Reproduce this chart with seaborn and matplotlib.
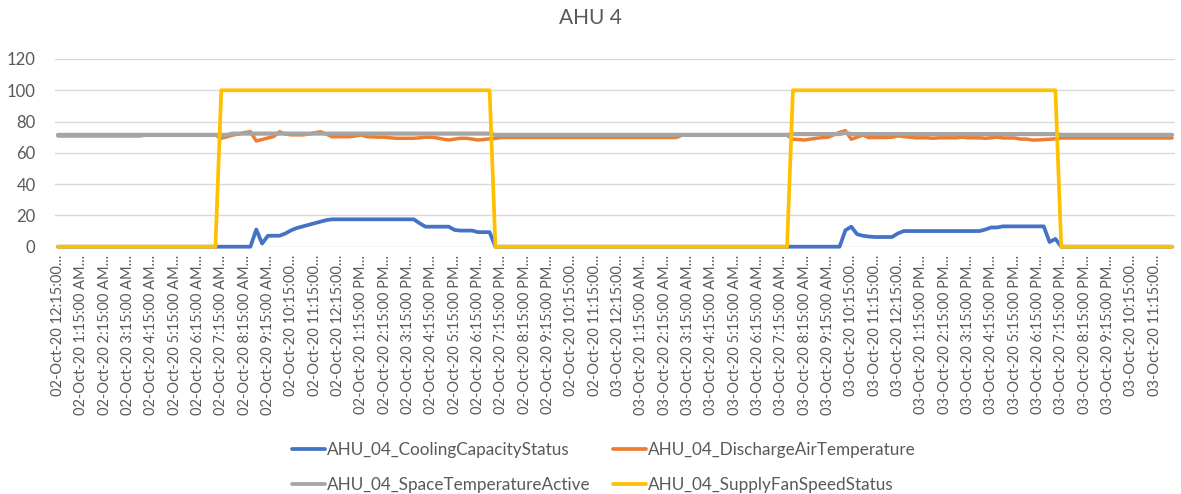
import pandas as pd
import seaborn as sns
import matplotlib.pyplot as plt
from matplotlib.lines import Line2D

# 15-minute readings from 02-Oct-20 12:15 AM, 16 values (4 hours) per row
cooling_capacity = [
    0, 0, 0, 0, 0, 0, 0, 0, 0, 0, 0, 0, 0, 0, 0, 0,
    0, 0, 0, 0, 0, 0, 0, 0, 0, 0, 0, 0, 0, 0, 0, 0,
    0, 0, 11, 2, 7, 7, 7, 8.5, 10.5, 12, 13, 14, 15, 16, 17, 17.5,
    17.5, 17.5, 17.5, 17.5, 17.5, 17.5, 17.5, 17.5, 17.5, 17.5, 17.5, 17.5, 17.5, 17.5, 15, 12.8,
    12.8, 12.8, 12.8, 12.8, 10.7, 10.3, 10.3, 10.3, 9.3, 9.3, 9.3, 0, 0, 0, 0, 0,
    0, 0, 0, 0, 0, 0, 0, 0, 0, 0, 0, 0, 0, 0, 0, 0,
    0, 0, 0, 0, 0, 0, 0, 0, 0, 0, 0, 0, 0, 0, 0, 0,
    0, 0, 0, 0, 0, 0, 0, 0, 0, 0, 0, 0, 0, 0, 0, 0,
    0, 0, 0, 0, 0, 0, 0, 10.5, 12.8, 8, 7, 6.5, 6.2, 6.2, 6.2, 6.2,
    8.5, 10, 10, 10, 10, 10, 10, 10, 10, 10, 10, 10, 10, 10, 10, 11,
    12.3, 12.3, 13, 13, 13, 13, 13, 13, 13, 13, 3, 5, 0, 0, 0, 0,
    0, 0, 0, 0, 0, 0, 0, 0, 0, 0, 0, 0, 0, 0, 0, 0,
]

discharge_air_temp = [
    70.8, 70.8, 70.8, 70.8, 70.8, 70.8, 70.8, 70.8, 70.8, 70.8, 70.8, 70.8, 70.8, 70.8, 70.8, 71.3,
    71.3, 71.3, 71.3, 71.3, 71.3, 71.3, 71.3, 71.3, 71.3, 71.3, 71.3, 71.3, 69.3, 70.3, 71.4, 72,
    73, 73.5, 67.6, 68.5, 69.5, 70.5, 73.5, 72, 71.5, 71.5, 71.5, 72, 72.8, 73.5, 72, 70.3,
    70.3, 70.3, 70.3, 70.8, 71.4, 70.3, 70.2, 70, 70, 69.6, 69.3, 69.3, 69.3, 69.3, 69.6, 70,
    70, 69.5, 68.8, 68.2, 68.8, 69.3, 69.3, 68.8, 68.2, 68.5, 69, 69.3, 69.8, 69.8, 69.8, 69.8,
    69.8, 69.8, 69.8, 69.8, 69.8, 69.8, 69.8, 69.8, 69.8, 69.8, 69.8, 69.8, 69.8, 69.8, 69.8, 69.8,
    69.8, 69.8, 69.8, 69.8, 69.8, 69.8, 69.8, 69.8, 69.8, 69.8, 69.8, 71.3, 71.3, 71.3, 71.3, 71.3,
    71.3, 71.3, 71.3, 71.3, 71.3, 71.3, 71.3, 71.3, 71.3, 71.3, 71.3, 71.3, 71.3, 71.3, 68.7, 68.5,
    68.2, 68.8, 69.3, 69.7, 70, 71.5, 73.1, 74.2, 68.7, 70, 71.4, 69.7, 69.8, 69.8, 69.8, 70,
    70.8, 70.4, 70, 69.6, 69.6, 69.6, 69.3, 69.6, 69.6, 69.6, 69.6, 70, 69.6, 69.6, 69.6, 69.3,
    69.6, 70, 69.5, 69.5, 69.5, 68.8, 68.8, 68.2, 68.2, 68.5, 68.7, 69, 69.5, 69.5, 69.5, 69.5,
    69.5, 69.5, 69.5, 69.5, 69.5, 69.5, 69.5, 69.5, 69.5, 69.5, 69.5, 69.5, 69.5, 69.5, 69.5, 69.5,
]

space_temp = [
    71.5, 71.5, 71.5, 71.5, 71.5, 71.5, 71.5, 71.5, 71.5, 71.5, 71.5, 71.5, 71.5, 71.5, 71.5, 71.5,
    71.5, 71.5, 71.5, 71.5, 71.5, 71.5, 71.5, 71.5, 71.5, 71.5, 71.5, 71.5, 71.5, 71.5, 72.3, 72.3,
    72.3, 72.3, 72.3, 72.3, 72.3, 72.3, 72.3, 72.3, 72.3, 72.3, 72.3, 72.3, 72.3, 72.3, 72.3, 72.3,
    72.3, 72.3, 72.3, 72.3, 72.3, 72.3, 72.3, 72.3, 72.3, 72.3, 72.3, 72.3, 72.3, 72.3, 72.3, 72.3,
    72.3, 72.3, 72.3, 72.3, 72.3, 72.3, 72.3, 72.3, 72.3, 72.3, 72.3, 71.5, 71.5, 71.5, 71.5, 71.5,
    71.5, 71.5, 71.5, 71.5, 71.5, 71.5, 71.5, 71.5, 71.5, 71.5, 71.5, 71.5, 71.5, 71.5, 71.5, 71.5,
    71.5, 71.5, 71.5, 71.5, 71.5, 71.5, 71.5, 71.5, 71.5, 71.5, 71.5, 71.5, 71.5, 71.5, 71.5, 71.5,
    71.5, 71.5, 71.5, 71.5, 71.5, 71.5, 71.5, 71.5, 71.5, 71.5, 71.5, 71.5, 71.5, 71.5, 72, 72,
    72, 72, 72, 72, 72, 72, 72, 72.8, 72, 72, 72, 72, 72, 72, 72, 72,
    72, 72, 72, 72, 72, 72, 72, 72, 72, 72, 72, 72, 72, 72, 72, 72,
    72, 72, 72, 72, 72, 72, 72, 72, 72, 72, 72, 72, 71.5, 71.5, 71.5, 71.5,
    71.5, 71.5, 71.5, 71.5, 71.5, 71.5, 71.5, 71.5, 71.5, 71.5, 71.5, 71.5, 71.5, 71.5, 71.5, 71.5,
]

supply_fan_speed = [
    0, 0, 0, 0, 0, 0, 0, 0, 0, 0, 0, 0, 0, 0, 0, 0,
    0, 0, 0, 0, 0, 0, 0, 0, 0, 0, 0, 0, 100, 100, 100, 100,
    100, 100, 100, 100, 100, 100, 100, 100, 100, 100, 100, 100, 100, 100, 100, 100,
    100, 100, 100, 100, 100, 100, 100, 100, 100, 100, 100, 100, 100, 100, 100, 100,
    100, 100, 100, 100, 100, 100, 100, 100, 100, 100, 100, 0, 0, 0, 0, 0,
    0, 0, 0, 0, 0, 0, 0, 0, 0, 0, 0, 0, 0, 0, 0, 0,
    0, 0, 0, 0, 0, 0, 0, 0, 0, 0, 0, 0, 0, 0, 0, 0,
    0, 0, 0, 0, 0, 0, 0, 0, 0, 0, 0, 0, 0, 0, 100, 100,
    100, 100, 100, 100, 100, 100, 100, 100, 100, 100, 100, 100, 100, 100, 100, 100,
    100, 100, 100, 100, 100, 100, 100, 100, 100, 100, 100, 100, 100, 100, 100, 100,
    100, 100, 100, 100, 100, 100, 100, 100, 100, 100, 100, 100, 0, 0, 0, 0,
    0, 0, 0, 0, 0, 0, 0, 0, 0, 0, 0, 0, 0, 0, 0, 0,
]

series_names = ["AHU_04_CoolingCapacityStatus", "AHU_04_DischargeAirTemperature",
                "AHU_04_SpaceTemperatureActive", "AHU_04_SupplyFanSpeedStatus"]
colors = ["#4472C4", "#ED7D31", "#A5A5A5", "#FFC000"]
widths = [2.7, 2.5, 3.0, 2.7]

days = ["02-Oct-20", "03-Oct-20"]
hours = ["12", "1", "2", "3", "4", "5", "6", "7", "8", "9", "10", "11"]

# Excel-style truncated category labels, one per hour
tick_labels = []
for day in days:
    for ampm in ["AM", "PM"]:
        for h in hours:
            if len(h) == 2:
                tick_labels.append(f"{day} {h}:15:00...")
            else:
                tick_labels.append(f"{day} {h}:15:00 {ampm}...")

df = pd.DataFrame({
    "idx": range(len(supply_fan_speed)),
    series_names[0]: cooling_capacity,
    series_names[1]: discharge_air_temp,
    series_names[2]: space_temp,
    series_names[3]: supply_fan_speed,
})
long_df = df.melt(id_vars="idx", var_name="series", value_name="value")

sns.set_style("white")
plt.rcParams["font.family"] = ["Lato", "DejaVu Sans"]
text_color = "#595959"
grid_color = "#D9D9D9"

fig = plt.figure(figsize=(11.81, 4.94), dpi=100)
ax = fig.add_axes([0.0466, 0.5006, 0.9483, 0.38])

sns.lineplot(data=long_df, x="idx", y="value", hue="series", hue_order=series_names,
             palette=colors, linewidth=2.5, legend=False, ax=ax)
for line, lw in zip(ax.get_lines(), widths):
    line.set_clip_on(False)
    line.set_linewidth(lw)
    line.set_solid_joinstyle("round")

n = len(supply_fan_speed)
ax.set_xlim(-0.5, n - 0.5)
ax.set_ylim(0, 120)
ax.set_yticks(range(0, 121, 20))
ax.set_xticks(range(0, n, 4))
ax.set_xticklabels(tick_labels, rotation=90, fontsize=10.5, color=text_color)
ax.set_xticks([i + 0.5 for i in range(0, n, 4)], minor=True)
ax.tick_params(axis="x", which="major", length=0, pad=6)
ax.tick_params(axis="x", which="minor", length=5, width=0.8, color="#BFBFBF", direction="out")
ax.tick_params(axis="y", length=0, pad=14, labelsize=12, labelcolor=text_color)
ax.set_xlabel("")
ax.set_ylabel("")
ax.yaxis.grid(True, color=grid_color, linewidth=1)
ax.set_axisbelow(True)
for spine in ax.spines.values():
    spine.set_visible(False)

fig.text(0.5, 1 - 18 / 494, "AHU 4", ha="center", va="center", fontsize=15, color=text_color)

handles = [Line2D([], [], color=c, linewidth=2.7) for c in colors]
order = [0, 2, 1, 3]
fig.legend([handles[i] for i in order], [series_names[i] for i in order],
           loc="center", bbox_to_anchor=(0.511, 1 - 467.5 / 494), ncol=2, frameon=False,
           fontsize=12.3, labelcolor=text_color, handlelength=1.95, handletextpad=0.1,
           columnspacing=1.3, labelspacing=1.15)

fig.savefig("out.png", dpi=100)
